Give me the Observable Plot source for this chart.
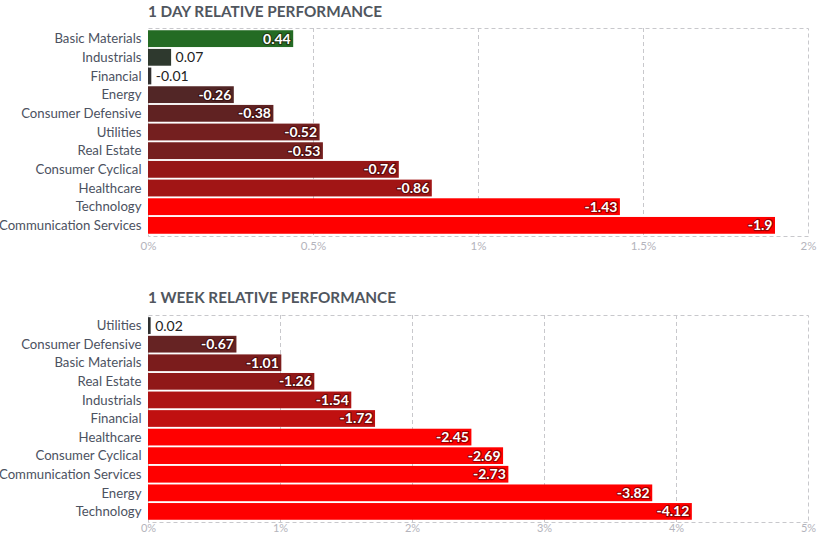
<!DOCTYPE html>
<html><head><meta charset="utf-8">
<script src="https://cdn.jsdelivr.net/npm/d3@7"></script>
<script src="https://cdn.jsdelivr.net/npm/@observablehq/plot@0.6"></script>
<style>
body{margin:0;background:#fff;font-family:Lato,sans-serif;}
#wrap{position:relative;width:834px;height:535px;overflow:hidden;}
.title{position:absolute;left:148px;font-family:Lato,sans-serif;font-weight:bold;font-size:15.3px;color:#50565e;line-height:22px;white-space:nowrap;}
.chart{position:absolute;left:0;}
</style></head><body><div id="wrap"></div>
<script>
const dayCategories = ["Basic Materials","Industrials","Financial","Energy","Consumer Defensive","Utilities","Real Estate","Consumer Cyclical","Healthcare","Technology","Communication Services"];
const dayValues = [0.44,0.07,-0.01,-0.26,-0.38,-0.52,-0.53,-0.76,-0.86,-1.43,-1.9];
const dayTicks = [0,0.5,1,1.5,2];
const dayColorDomain = [-1.2,-0.86,-0.76,-0.52,-0.38,-0.26,0,0.44];
const dayColorRange = ["#ff0000","#a11515","#961717","#741f1f","#602222","#522626","#303030","#246b24"];

const weekCategories = ["Utilities","Consumer Defensive","Basic Materials","Real Estate","Industrials","Financial","Healthcare","Consumer Cyclical","Communication Services","Energy","Technology"];
const weekValues = [0.02,-0.67,-1.01,-1.26,-1.54,-1.72,-2.45,-2.69,-2.73,-3.82,-4.12];
const weekTicks = [0,1,2,3,4,5];
const weekColorDomain = [-2.3,-1.72,-1.54,-1.26,-1.01,-0.67,0];
const weekColorRange = ["#ff0000","#c01010","#ae1414","#901818","#7b1c1c","#662323","#303030"];

function chart(cats, vals, ticks, cDomain, cRange, height, mt, mb, tickPad, tickFont) {
  const data = cats.map((c, i) => ({cat: c, value: vals[i], abs: Math.abs(vals[i])}));
  const xmax = ticks[ticks.length - 1];
  const inside = d => d.abs / xmax * 660 > 36;
  const fmt = d => d + "%";
  return Plot.plot({
    width: 834, height, marginLeft: 148, marginRight: 26, marginTop: mt, marginBottom: mb,
    style: {fontFamily: "Lato, sans-serif", background: "transparent", overflow: "visible"},
    x: {domain: [0, xmax], ticks, tickFormat: fmt, label: null},
    y: {domain: cats, paddingInner: 0.1, paddingOuter: 0.12, round: false, label: null},
    color: {type: "linear", domain: cDomain, range: cRange, interpolate: "rgb"},
    marks: [
      Plot.ruleX(ticks.slice(1, -1), {stroke: "#c8c8cc", strokeDasharray: "4,3", strokeWidth: 1}),
      Plot.frame({stroke: "#c8c8cc", strokeDasharray: "4,3", strokeWidth: 1}),
      Plot.barX(data, {x: "abs", y: "cat", fill: "value"}),
      Plot.text(data.filter(inside), {x: "abs", y: "cat", text: d => String(d.value), textAnchor: "end", dx: -3,
        fill: "white", stroke: "#200000", strokeOpacity: 0.45, strokeWidth: 2.5, fontSize: 14, fontWeight: "bold"}),
      Plot.text(data.filter(d => !inside(d)), {x: "abs", y: "cat", text: d => String(d.value), textAnchor: "start", dx: 4,
        fill: "#222", fontSize: 14}),
      Plot.axisX({ticks, tickFormat: fmt, tickSize: 0, tickPadding: tickPad, fill: "#b4b4bc", fontSize: tickFont, label: null}),
      Plot.axisY({tickSize: 0, tickPadding: 7, fill: "#4c5261", fontSize: 13.2, label: null})
    ]
  });
}

const wrap = document.getElementById("wrap");
function addTitle(text, top) {
  const t = document.createElement("div");
  t.className = "title"; t.textContent = text; t.style.top = top + "px";
  wrap.appendChild(t);
}
function addChart(svg, top) {
  svg.classList.add("chart"); svg.style.top = top + "px";
  wrap.appendChild(svg);
}
addTitle("1 DAY RELATIVE PERFORMANCE", 0);
addChart(chart(dayCategories, dayValues, dayTicks, dayColorDomain, dayColorRange, 234, 6, 20, 5, 11.5), 22);
addTitle("1 WEEK RELATIVE PERFORMANCE", 286);
addChart(chart(weekCategories, weekValues, weekTicks, weekColorDomain, weekColorRange, 227, 7, 13, 2, 11), 308);
</script>
</body></html>
